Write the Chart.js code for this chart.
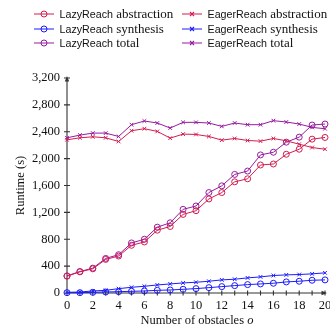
<!DOCTYPE html>
<html>
<head>
<meta charset="utf-8">
<script src="https://cdn.jsdelivr.net/npm/chart.js@4.4.1/dist/chart.umd.min.js"></script>
<style>
    html, body { margin: 0; padding: 0; background: #fff; }
    #wrap { position: relative; width: 330px; height: 330px; overflow: hidden; }
    #chart { position: absolute; left: 0; top: 0; }
    .item { position: absolute; height: 14px; display: flex; align-items: center; white-space: nowrap; color: #111; }
    .item svg { margin-right: 6px; }
    .sans { font: 10.7px "Liberation Sans", sans-serif; }
    .serif { font: 13px "Liberation Serif", serif; }
    #xtitle { position: absolute; left: 67px; top: 312px; width: 260px; text-align: center;
        font: 12.5px "Liberation Serif", serif; line-height: 16px; color: #111; }
</style>
</head>
<body>
<div id="wrap">
    <canvas id="chart" width="330" height="330"></canvas>
    <div id="legend"></div>
    <div id="xtitle">Number of obstacles <i>o</i></div>
</div>
<script>
const obstacles = [0, 1, 2, 3, 4, 5, 6, 7, 8, 9, 10, 11, 12, 13, 14, 15, 16, 17, 18, 19, 20];

const lazyAbstraction = [250, 315, 360, 500, 550, 710, 760, 935, 990, 1170, 1225, 1400, 1495, 1655, 1700, 1905, 1920, 2065, 2140, 2290, 2315];
const lazySynthesis = [5, 5, 10, 15, 20, 25, 30, 40, 45, 55, 65, 80, 95, 110, 125, 135, 145, 165, 175, 190, 195];
const lazyTotal = [255, 320, 370, 515, 570, 745, 800, 980, 1045, 1245, 1295, 1495, 1595, 1765, 1815, 2055, 2095, 2245, 2320, 2500, 2515];

const eagerAbstraction = [2280, 2310, 2325, 2310, 2255, 2415, 2445, 2405, 2305, 2365, 2360, 2330, 2275, 2300, 2270, 2260, 2300, 2265, 2215, 2165, 2140];
const eagerSynthesis = [10, 15, 30, 40, 65, 85, 100, 120, 135, 150, 160, 175, 195, 205, 225, 240, 260, 270, 275, 285, 300];
const eagerTotal = [2310, 2350, 2380, 2380, 2330, 2505, 2560, 2530, 2455, 2540, 2540, 2530, 2480, 2530, 2505, 2505, 2565, 2545, 2515, 2465, 2445];

const yTicks = [0, 400, 800, 1200, 1600, 2000, 2400, 2800, 3200];

const red = '#d21c50';
const blue = '#1a1aff';
const purple = '#961b9e';

const series = [
    { algo: 'LazyReach', part: 'abstraction', data: lazyAbstraction, color: red, mark: 'circle' },
    { algo: 'EagerReach', part: 'abstraction', data: eagerAbstraction, color: red, mark: 'crossRot' },
    { algo: 'LazyReach', part: 'synthesis', data: lazySynthesis, color: blue, mark: 'circle' },
    { algo: 'EagerReach', part: 'synthesis', data: eagerSynthesis, color: blue, mark: 'crossRot' },
    { algo: 'LazyReach', part: 'total', data: lazyTotal, color: purple, mark: 'circle' },
    { algo: 'EagerReach', part: 'total', data: eagerTotal, color: purple, mark: 'crossRot' }
];

// legend (html so the two fonts can be mixed like in the latex figure)
const legend = document.querySelector('#legend');
series.forEach((s, i) => {
    const col = i % 2, row = Math.floor(i / 2);
    const el = document.createElement('div');
    el.className = 'item';
    el.style.left = (col ? 181.5 : 33.5) + 'px';
    el.style.top = ([14, 28.6, 43.3][row] - 7) + 'px';
    const sym = s.mark === 'circle'
        ? `<circle cx="10" cy="5" r="3" fill="none" stroke="${s.color}" stroke-width="1"/>`
        : `<path d="M8,3 L12,7 M12,3 L8,7" stroke="${s.color}" stroke-width="1.1"/>`;
    el.innerHTML = `<svg width="20" height="10"><line x1="0" y1="5" x2="20" y2="5" stroke="${s.color}" stroke-width="1"/>${sym}</svg>` +
        `<span class="sans">${s.algo}</span><span class="serif">&nbsp;${s.part}</span>`;
    legend.appendChild(el);
});

// axis lines with arrow heads and centred tick marks, pgfplots style
const axisLines = {
    id: 'axisLines',
    beforeDatasetsDraw(chart) {
        const { ctx, chartArea: a, scales: { x, y } } = chart;
        ctx.save();
        ctx.strokeStyle = '#333';
        ctx.fillStyle = '#333';
        ctx.lineWidth = 1.1;
        ctx.beginPath();
        ctx.moveTo(a.left, a.bottom);
        ctx.lineTo(a.left, a.top + 1);
        ctx.moveTo(a.left, a.bottom);
        ctx.lineTo(a.right - 1, a.bottom);
        obstacles.forEach(v => {
            const px = x.getPixelForValue(v);
            ctx.moveTo(px, a.bottom - 2.5);
            ctx.lineTo(px, a.bottom + 2.5);
        });
        yTicks.forEach(v => {
            const py = y.getPixelForValue(v);
            ctx.moveTo(a.left - 3, py);
            ctx.lineTo(a.left + 3, py);
        });
        ctx.stroke();
        // arrow heads
        ctx.beginPath();
        ctx.moveTo(a.left, a.top - 2);
        ctx.lineTo(a.left - 2.2, a.top + 3.5);
        ctx.lineTo(a.left + 2.2, a.top + 3.5);
        ctx.closePath();
        ctx.moveTo(a.right + 2, a.bottom);
        ctx.lineTo(a.right - 3.5, a.bottom - 2.2);
        ctx.lineTo(a.right - 3.5, a.bottom + 2.2);
        ctx.closePath();
        ctx.fill();
        ctx.restore();
    }
};

new Chart(document.querySelector('#chart'), {
    type: 'line',
    data: {
        datasets: series.map(s => ({
            label: s.algo + ' ' + s.part,
            data: s.data.map((v, i) => ({ x: obstacles[i], y: v })),
            borderColor: s.color,
            backgroundColor: 'transparent',
            borderWidth: 1,
            pointStyle: s.mark,
            pointRadius: s.mark === 'circle' ? 3 : 2.6,
            pointBorderWidth: 1,
            pointBorderColor: s.color,
            pointBackgroundColor: 'transparent',
            tension: 0,
            clip: false
        }))
    },
    options: {
        responsive: false,
        animation: false,
        layout: { padding: { top: 78, right: 3, bottom: 0, left: 0 } },
        plugins: {
            legend: { display: false },
            tooltip: { enabled: false }
        },
        scales: {
            x: {
                type: 'linear',
                min: 0,
                max: 20,
                grid: { display: false, drawTicks: false },
                border: { display: false },
                ticks: {
                    stepSize: 2,
                    padding: 5,
                    color: '#111',
                    font: { family: 'Liberation Serif', size: 12.5 }
                },
                afterFit(scale) {
                    scale.height = 37;
                    scale.paddingLeft = 0;
                    scale.paddingRight = 0;
                }
            },
            y: {
                min: 0,
                max: 3200,
                grid: { display: false, drawTicks: false },
                border: { display: false },
                ticks: {
                    stepSize: 400,
                    padding: 7,
                    color: '#111',
                    font: { family: 'Liberation Serif', size: 12.5 }
                },
                title: {
                    display: true,
                    text: 'Runtime (s)',
                    color: '#111',
                    padding: { top: 13, bottom: 0 },
                    font: { family: 'Liberation Serif', size: 12.5 }
                },
                afterFit(scale) {
                    scale.width = 67;
                }
            }
        }
    },
    plugins: [axisLines]
});
</script>
</body>
</html>
